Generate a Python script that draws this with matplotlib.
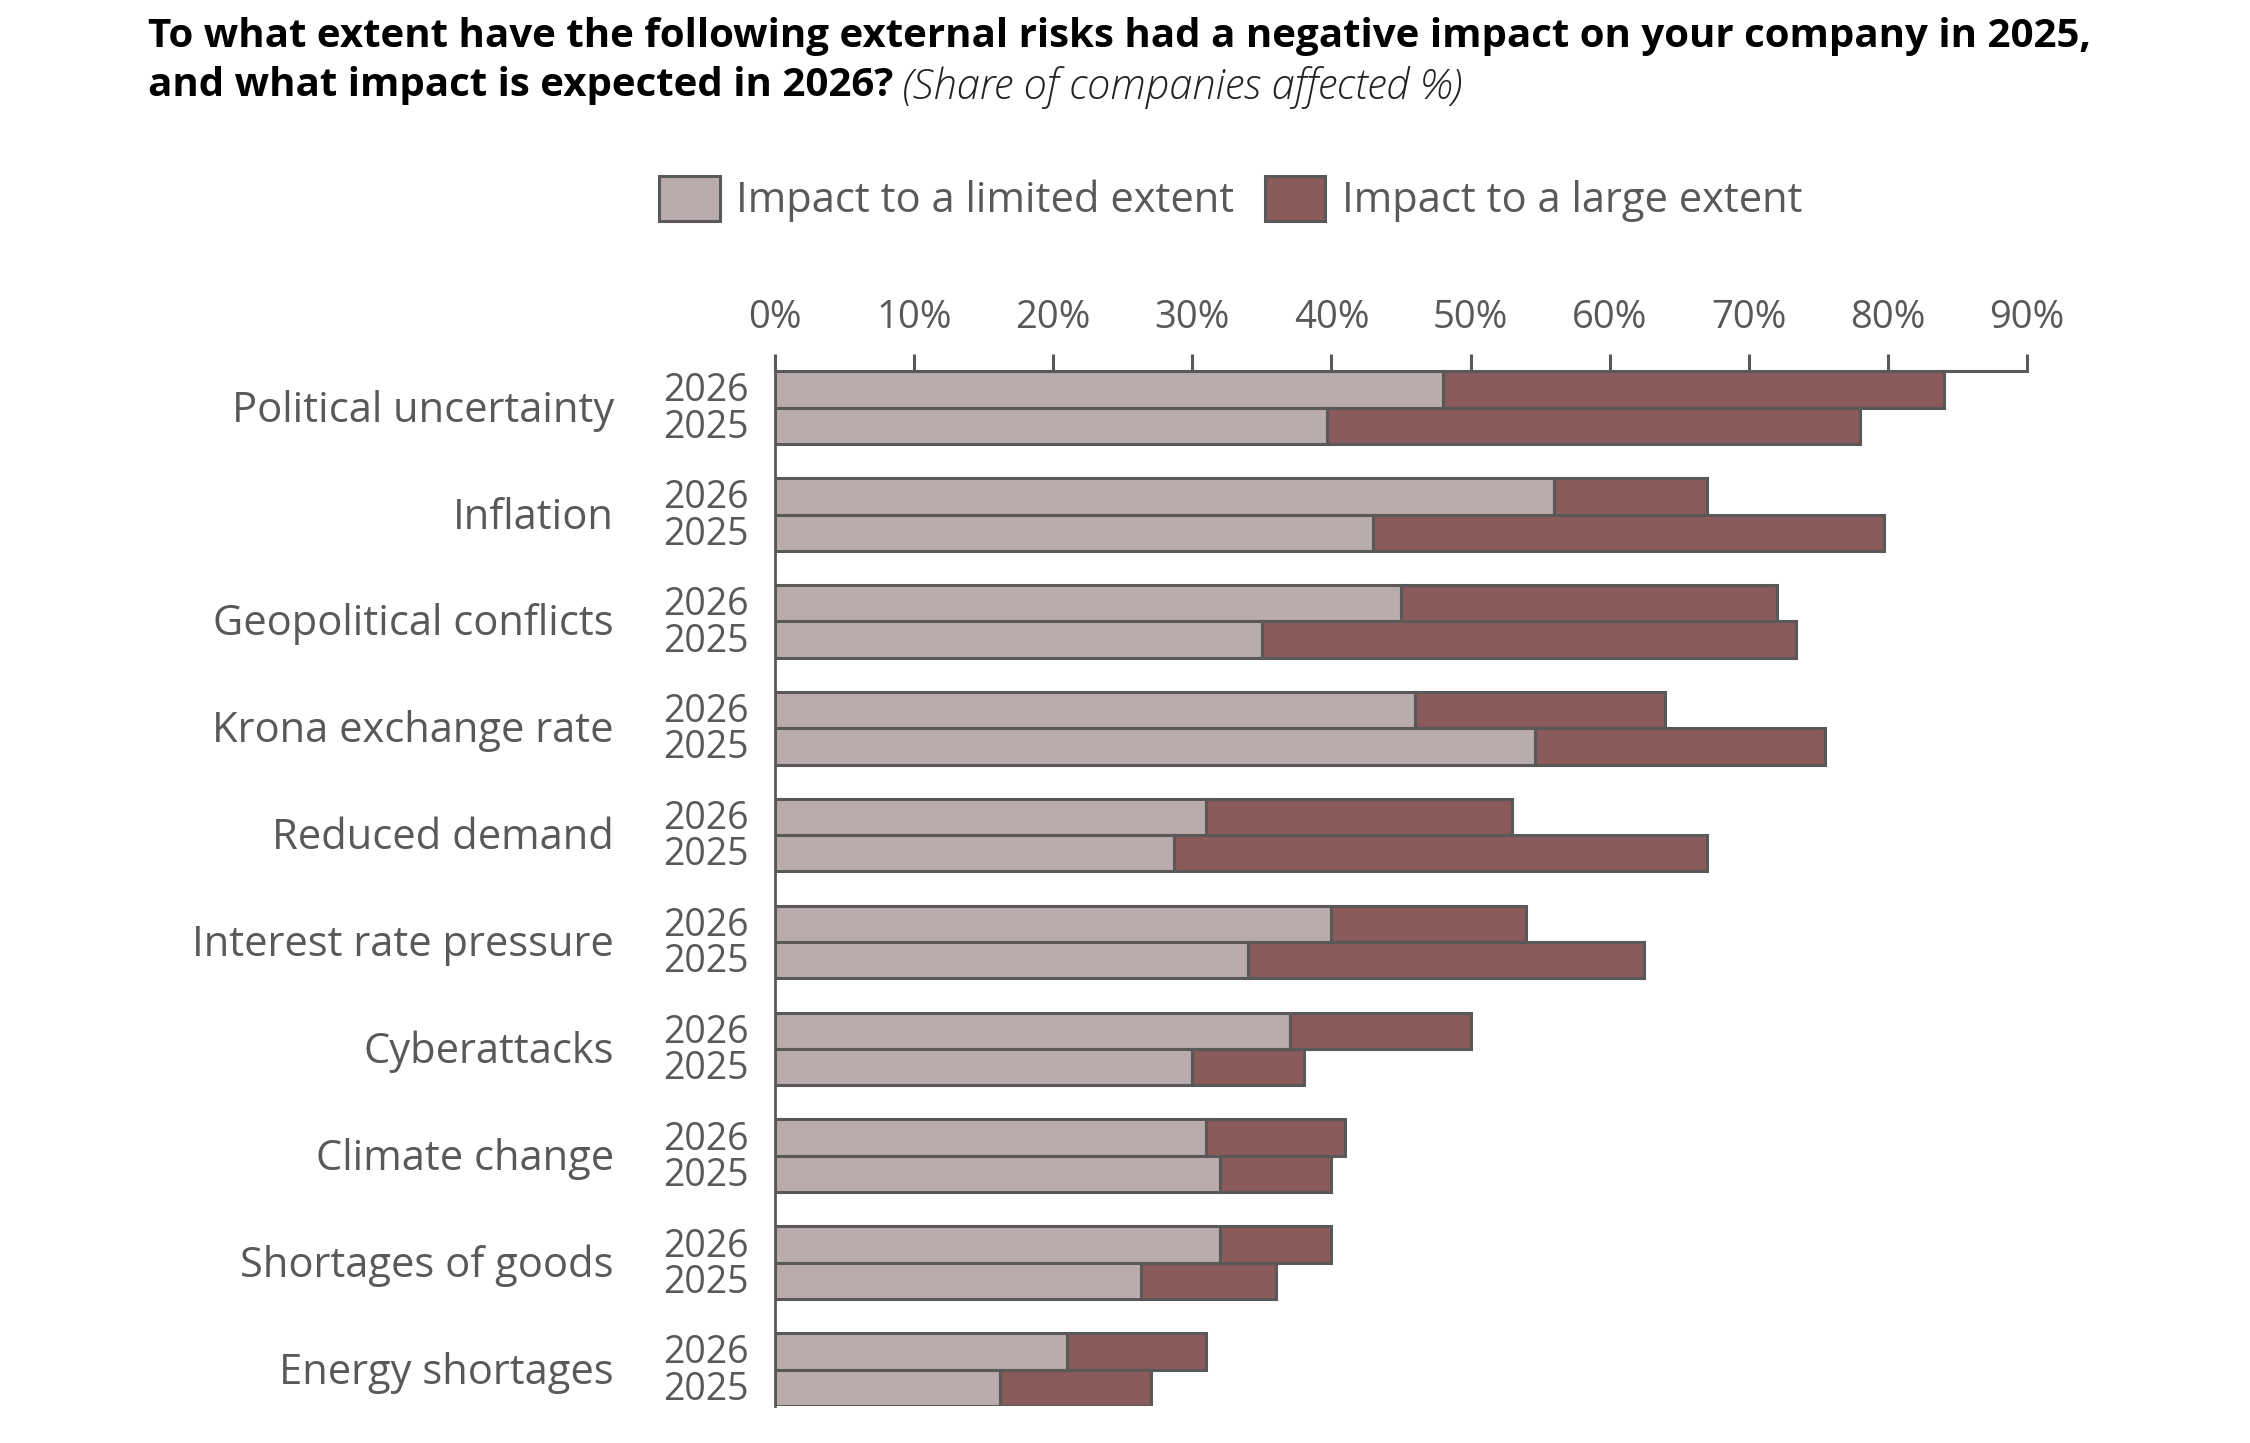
import matplotlib.pyplot as plt
from matplotlib.patches import Patch
import numpy as np

# Data (share of companies affected, %)
categories = ["Political uncertainty", "Inflation", "Geopolitical conflicts",
              "Krona exchange rate", "Reduced demand", "Interest rate pressure",
              "Cyberattacks", "Climate change", "Shortages of goods", "Energy shortages"]
years = ["2026", "2025"]

limited_2026 = [48, 56, 45, 46, 31, 40, 37, 31, 32, 21]
total_2026 = [84, 67, 72, 64, 53, 54, 50, 41, 40, 31]
limited_2025 = [39.7, 43, 35, 54.6, 28.7, 34, 30, 32, 26.3, 16.2]
total_2025 = [78, 79.7, 73.4, 75.5, 67, 62.5, 38, 40, 36, 27]

large_2026 = [t - l for t, l in zip(total_2026, limited_2026)]
large_2025 = [t - l for t, l in zip(total_2025, limited_2025)]

xticks = [0, 10, 20, 30, 40, 50, 60, 70, 80, 90]

C_LIMITED = "#baacac"
C_LARGE = "#8b5a5a"
C_EDGE = "#595959"
C_TEXT = "#595959"
FONT = "Open Sans"

plt.rcParams['font.family'] = [FONT, 'DejaVu Sans']

fig = plt.figure(figsize=(22.5, 14.43), dpi=100)
ax = fig.add_axes([0.3444, 0.0257, 0.5565, 0.717])

h = 0.34
y = np.arange(len(categories))
y26 = y - h / 2
y25 = y + h / 2

kw = dict(height=h, edgecolor=C_EDGE, linewidth=2.2)
ax.barh(y26, limited_2026, color=C_LIMITED, **kw)
ax.barh(y26, large_2026, left=limited_2026, color=C_LARGE, **kw)
ax.barh(y25, limited_2025, color=C_LIMITED, **kw)
ax.barh(y25, large_2025, left=limited_2025, color=C_LARGE, **kw)

ax.set_xlim(0, 90)
ax.set_ylim(len(categories) - 1 + h, -h)

# Axis styling: ticks on top, thin left spine
for s in ["right", "bottom"]:
    ax.spines[s].set_visible(False)
ax.spines["top"].set_color(C_EDGE)
ax.spines["top"].set_linewidth(2.2)
ax.spines["left"].set_color(C_EDGE)
ax.spines["left"].set_linewidth(2.0)
ax.xaxis.tick_top()
ax.set_xticks(xticks)
ax.set_xticklabels([f"{v}%" for v in xticks])
ax.tick_params(axis="x", direction="out", length=12, width=2.2, color=C_EDGE,
               labelsize=27.5, labelcolor=C_TEXT, pad=13)
ax.set_yticks([])

# Category labels and year labels
for i, cat in enumerate(categories):
    ax.annotate(cat, xy=(0, i), xycoords=("axes fraction", "data"),
                xytext=(-161, -3), textcoords="offset pixels",
                ha="right", va="center", fontsize=30, color=C_TEXT)
    ax.annotate(years[0], xy=(0, y26[i]), xycoords=("axes fraction", "data"),
                xytext=(-26, -2), textcoords="offset pixels",
                ha="right", va="center", fontsize=27, color=C_TEXT)
    ax.annotate(years[1], xy=(0, y25[i]), xycoords=("axes fraction", "data"),
                xytext=(-26, -2), textcoords="offset pixels",
                ha="right", va="center", fontsize=27, color=C_TEXT)

# Title
fig.text(0.0658, 0.988, "To what extent have the following external risks had a negative impact on your company in 2025,",
         fontsize=29, fontweight="bold", color="black", va="top", ha="left")
t2 = fig.text(0.0658, 0.954, "and what impact is expected in 2026?",
              fontsize=29, fontweight="bold", color="black", va="top", ha="left")
fig.canvas.draw()
bb = t2.get_window_extent(renderer=fig.canvas.get_renderer())
fig.text(bb.x1 / fig.bbox.width + 0.004, 0.954, "(Share of companies affected %)",
         fontsize=30, fontstyle="italic", fontweight="light", color="#222222",
         va="top", ha="left")

# Legend
handles = [Patch(facecolor=C_LIMITED, edgecolor=C_EDGE, linewidth=2.2, label="Impact to a limited extent"),
           Patch(facecolor=C_LARGE, edgecolor=C_EDGE, linewidth=2.2, label="Impact to a large extent")]
leg = fig.legend(handles=handles, loc="center", bbox_to_anchor=(0.547, 0.862), ncol=2,
                 frameon=False, fontsize=30, handlelength=1.45, handleheight=1.3,
                 handletextpad=0.4, columnspacing=0.72)
for t in leg.get_texts():
    t.set_color(C_TEXT)

fig.savefig("out.png", dpi=100)
